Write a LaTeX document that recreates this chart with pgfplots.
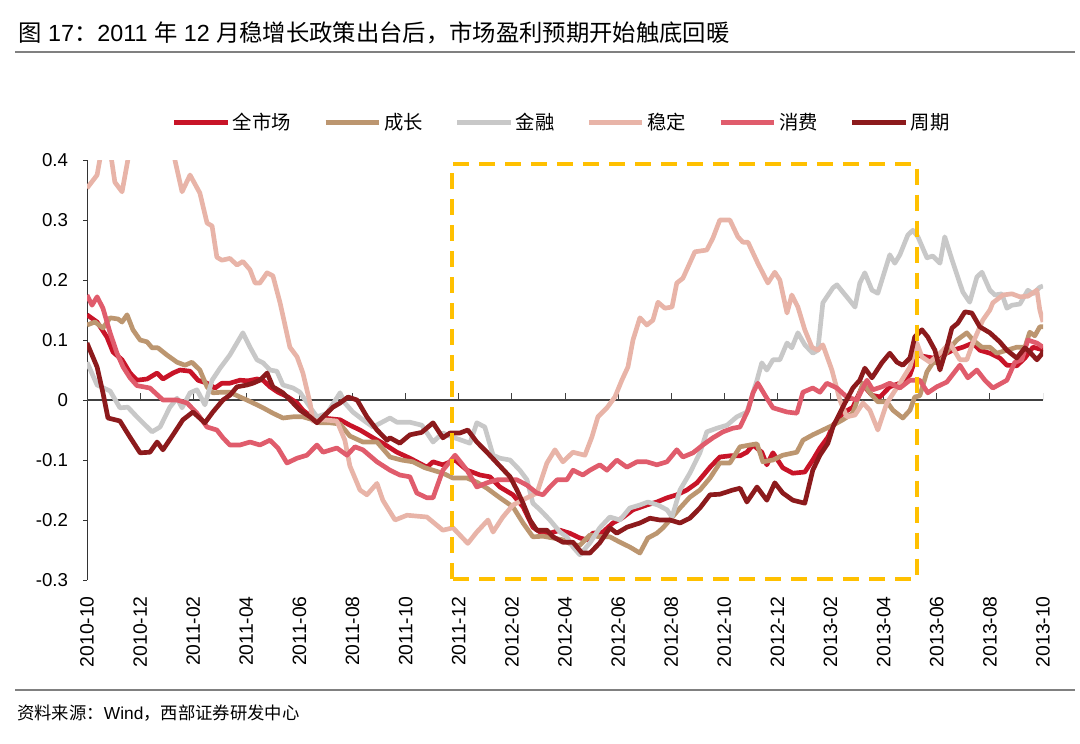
\documentclass[border=0pt]{standalone}
\usepackage{fontspec}
\setmainfont{Liberation Sans}
\newfontfamily\cjk{Noto Sans CJK SC}
\usepackage{pgfplots}
\pgfplotsset{compat=1.18}
\definecolor{cAll}{RGB}{200,20,40}
\definecolor{cGrow}{RGB}{188,150,112}
\definecolor{cFin}{RGB}{200,200,200}
\definecolor{cStab}{RGB}{232,180,168}
\definecolor{cCons}{RGB}{224,92,108}
\definecolor{cCyc}{RGB}{140,26,28}
\definecolor{cBox}{RGB}{255,192,0}
\begin{document}
\begin{tikzpicture}
\path[use as bounding box] (0pt,0pt) rectangle (810pt,-557.25pt);
% title
\node[anchor=west, inner sep=0pt, font=\fontsize{17.5}{20}\selectfont] at (13.5pt,-24.75pt)
 {{\cjk 图} 17{\cjk ：}2011 {\cjk 年} 12 {\cjk 月稳增长政策出台后，市场盈利预期开始触底回暖}};
\draw[line width=1.5pt, black!50] (11.25pt,-39pt) -- (806.25pt,-39pt);
\draw[line width=1.5pt, black!50] (11.25pt,-517.5pt) -- (806.25pt,-517.5pt);
\node[anchor=west, inner sep=0pt, font=\fontsize{13}{15}\selectfont] at (12.75pt,-534.75pt)
 {{\cjk 资料来源：}Wind{\cjk ，西部证券研发中心}};
\begin{axis}[
  at={(65.25pt,-435pt)}, anchor=south west,
  width=717pt, height=315pt, scale only axis,
  xmin=0, xmax=36, ymin=-0.3, ymax=0.4,
  enlargelimits=false,
  axis x line*=bottom, axis y line*=left,
  x axis line style={draw=none},
  y axis line style={draw=black!80, line width=0.75pt, -},
  xtick style={draw=none},
  ytick style={draw=black!80, line width=0.75pt},
  tick align=outside, major tick length=3pt,
  xtick={0,2,...,36},
  xticklabels={2010-10,2010-12,2011-02,2011-04,2011-06,2011-08,2011-10,2011-12,2012-02,2012-04,2012-06,2012-08,2012-10,2012-12,2013-02,2013-04,2013-06,2013-08,2013-10},
  xticklabel style={rotate=90, anchor=east, inner sep=0pt, font=\fontsize{14.5}{16}\selectfont},
  xticklabel shift=9pt,
  ytick={-0.3,-0.2,-0.1,0,0.1,0.2,0.3,0.4},
  yticklabels={-0.3,-0.2,-0.1,0,0.1,0.2,0.3,0.4},
  yticklabel style={inner sep=0pt, font=\fontsize{14}{16}\selectfont},
  yticklabel shift=11pt,
  legend style={at={(0.497,1.09)}, anchor=center, draw=none, fill=none,
    font=\cjk\fontsize{14.5}{17}\selectfont,
    /tikz/every even column/.append style={column sep=22pt}},
  legend columns=6,
  legend cell align=left,
  legend image code/.code={\draw[#1, line width=3.8pt] (0pt,0pt) -- (40pt,0pt);},
  every axis plot/.append style={line width=3.5pt, line join=round, mark=none},
]
\draw[black!75, line width=1.1pt] (axis cs:0,0) -- (axis cs:36,0);
\pgfplotsinvokeforeach{2,4,...,36}{\draw[black!75, line width=0.75pt] (axis cs:#1,0) -- ++(0pt,5pt);}

\addplot[cAll] coordinates {(0,0.142) (0.38,0.13) (0.75,0.105) (0.98,0.08) (1.32,0.067) (1.62,0.045) (1.88,0.033) (2.26,0.035) (2.64,0.045) (2.86,0.035) (3.24,0.045) (3.50,0.05) (3.88,0.048) (4.18,0.033) (4.52,0.028) (4.82,0.02) (5.08,0.028) (5.38,0.028) (5.76,0.033) (6.06,0.032) (6.40,0.035) (6.63,0.033) (6.89,0.022) (7.19,0.013) (7.57,0.005) (7.91,-0.005) (8.13,-0.017) (8.51,-0.03) (8.89,-0.03) (9.53,-0.033) (9.90,-0.042) (10.28,-0.05) (10.77,-0.063) (11.14,-0.072) (11.67,-0.087) (12.16,-0.097) (12.80,-0.112) (13.03,-0.103) (13.40,-0.108) (13.86,-0.1) (14.31,-0.117) (14.80,-0.125) (15.17,-0.128) (15.55,-0.145) (16.04,-0.158) (16.42,-0.178) (16.79,-0.212) (17.06,-0.22) (17.43,-0.222) (17.81,-0.217) (18.18,-0.222) (18.56,-0.23) (18.83,-0.233) (19.05,-0.222) (19.43,-0.22) (19.80,-0.205) (20.14,-0.197) (20.56,-0.183) (21.08,-0.175) (21.46,-0.17) (21.84,-0.163) (22.21,-0.158) (22.59,-0.15) (22.97,-0.138) (23.46,-0.112) (23.83,-0.095) (24.21,-0.093) (24.59,-0.093) (24.85,-0.087) (25.08,-0.075) (25.41,-0.087) (25.60,-0.108) (25.83,-0.088) (26.20,-0.113) (26.58,-0.122) (27.03,-0.12) (27.33,-0.1) (27.60,-0.08) (27.90,-0.062) (28.09,-0.042) (28.46,-0.022) (28.84,-0.012) (29.22,0.025) (29.56,0.008) (29.86,0.005) (30.23,0.022) (30.61,0.028) (30.99,0.042) (31.25,0.075) (31.48,0.073) (31.85,0.07) (32.23,0.075) (32.60,0.083) (32.98,0.088) (33.36,0.095) (33.62,0.083) (34.00,0.078) (34.37,0.07) (34.64,0.058) (35.01,0.057) (35.32,0.07) (35.62,0.088) (35.88,0.085) (36.0,0.085)};
\addlegendentry{全市场}

\addplot[cGrow] coordinates {(0,0.125) (0.30,0.13) (0.60,0.12) (0.87,0.137) (1.17,0.135) (1.32,0.13) (1.51,0.142) (1.73,0.117) (2.00,0.1) (2.26,0.097) (2.45,0.087) (2.67,0.087) (3.01,0.075) (3.39,0.063) (3.69,0.058) (3.95,0.063) (4.25,0.05) (4.52,0.022) (4.74,0.012) (5.08,0.013) (5.38,0.013) (5.76,0.005) (6.02,0.0) (6.40,-0.008) (6.63,-0.013) (7.00,-0.022) (7.38,-0.03) (7.76,-0.028) (8.13,-0.028) (8.51,-0.033) (8.77,-0.038) (9.15,-0.038) (9.53,-0.04) (9.90,-0.06) (10.39,-0.07) (10.92,-0.07) (11.41,-0.095) (11.84,-0.1) (12.27,-0.103) (12.73,-0.113) (13.03,-0.117) (13.40,-0.122) (13.78,-0.13) (14.31,-0.13) (14.68,-0.137) (15.06,-0.147) (15.55,-0.163) (16.04,-0.178) (16.42,-0.205) (16.79,-0.228) (17.17,-0.227) (17.55,-0.23) (17.92,-0.233) (18.30,-0.242) (18.56,-0.242) (18.94,-0.225) (19.31,-0.228) (19.69,-0.228) (20.07,-0.237) (20.44,-0.245) (20.82,-0.255) (21.12,-0.23) (21.46,-0.222) (21.69,-0.213) (21.95,-0.2) (22.33,-0.18) (22.70,-0.162) (23.08,-0.15) (23.46,-0.13) (23.83,-0.105) (24.21,-0.105) (24.59,-0.078) (24.96,-0.075) (25.23,-0.073) (25.45,-0.103) (25.83,-0.1) (26.20,-0.092) (26.73,-0.087) (26.96,-0.067) (27.33,-0.058) (27.71,-0.05) (28.09,-0.042) (28.46,-0.033) (28.84,-0.022) (29.22,0.028) (29.56,0.008) (29.78,-0.003) (30.12,-0.003) (30.35,-0.017) (30.72,-0.03) (30.99,-0.017) (31.17,0.005) (31.36,0.007) (31.63,0.047) (31.85,0.062) (32.12,0.063) (32.42,0.083) (32.76,0.1) (33.13,0.112) (33.36,0.1) (33.70,0.088) (34.00,0.088) (34.26,0.078) (34.64,0.083) (35.01,0.088) (35.32,0.088) (35.50,0.113) (35.69,0.107) (35.88,0.122) (36.0,0.122)};
\addlegendentry{成长}

\addplot[cFin] coordinates {(0,0.063) (0.38,0.025) (0.87,0.015) (1.24,-0.013) (1.54,-0.012) (1.88,-0.028) (2.45,-0.053) (2.75,-0.045) (3.12,-0.012) (3.39,0.003) (3.58,-0.013) (3.88,0.012) (4.14,0.017) (4.44,-0.008) (4.71,0.033) (5.01,0.053) (5.38,0.075) (5.87,0.112) (6.14,0.088) (6.40,0.067) (6.63,0.062) (6.89,0.05) (7.15,0.048) (7.38,0.025) (7.76,0.02) (8.02,0.013) (8.40,-0.012) (8.66,-0.028) (9.04,-0.022) (9.53,0.012) (9.71,-0.005) (10.01,-0.02) (10.39,-0.033) (10.77,-0.045) (11.41,-0.03) (11.67,-0.037) (12.16,-0.037) (12.61,-0.042) (13.03,-0.07) (13.40,-0.055) (13.78,-0.062) (14.42,-0.072) (14.68,-0.038) (14.98,-0.045) (15.29,-0.092) (15.55,-0.097) (15.93,-0.1) (16.30,-0.117) (16.57,-0.133) (16.79,-0.172) (17.06,-0.183) (17.43,-0.2) (17.81,-0.22) (18.07,-0.228) (18.30,-0.245) (18.56,-0.258) (18.94,-0.238) (19.31,-0.213) (19.69,-0.195) (20.07,-0.2) (20.44,-0.18) (20.82,-0.175) (21.12,-0.17) (21.50,-0.175) (21.84,-0.183) (22.03,-0.195) (22.33,-0.15) (22.70,-0.122) (23.08,-0.088) (23.34,-0.053) (23.72,-0.047) (24.10,-0.042) (24.47,-0.028) (24.85,-0.02) (25.23,0.033) (25.41,0.062) (25.60,0.05) (25.83,0.067) (26.09,0.067) (26.36,0.095) (26.54,0.087) (26.77,0.112) (27.03,0.092) (27.33,0.078) (27.52,0.083) (27.71,0.162) (28.09,0.187) (28.24,0.192) (28.61,0.172) (28.92,0.155) (29.10,0.195) (29.29,0.212) (29.56,0.183) (29.78,0.178) (29.97,0.205) (30.23,0.242) (30.42,0.228) (30.61,0.242) (30.91,0.275) (31.10,0.283) (31.29,0.272) (31.63,0.237) (31.85,0.24) (32.12,0.228) (32.30,0.272) (32.60,0.23) (32.98,0.18) (33.24,0.163) (33.51,0.205) (33.70,0.213) (34.00,0.183) (34.19,0.175) (34.45,0.177) (34.64,0.153) (34.83,0.158) (35.13,0.16) (35.43,0.183) (35.62,0.177) (35.88,0.188) (36.0,0.19)};
\addlegendentry{金融}

\addplot[cStab] coordinates {(0,0.353) (0.38,0.375) (0.56,0.42) (0.79,0.44) (1.05,0.363) (1.32,0.347) (1.62,0.42) (2.0,0.47) (2.75,0.47) (3.2,0.43) (3.31,0.40) (3.58,0.347) (3.88,0.375) (4.25,0.345) (4.52,0.295) (4.71,0.29) (4.89,0.238) (5.08,0.233) (5.38,0.236) (5.65,0.225) (5.87,0.231) (6.14,0.217) (6.33,0.195) (6.51,0.195) (6.78,0.212) (7.0,0.207) (7.27,0.162) (7.64,0.088) (7.91,0.072) (8.13,0.045) (8.40,-0.005) (8.51,-0.035) (8.89,-0.033) (9.41,-0.035) (9.71,-0.067) (9.90,-0.11) (10.28,-0.15) (10.54,-0.158) (10.92,-0.139) (11.14,-0.167) (11.60,-0.2) (12.05,-0.192) (12.80,-0.195) (13.40,-0.217) (13.78,-0.213) (14.34,-0.239) (14.68,-0.22) (15.10,-0.2) (15.29,-0.22) (15.66,-0.195) (16.04,-0.175) (16.57,-0.163) (16.94,-0.155) (17.32,-0.105) (17.62,-0.083) (17.92,-0.103) (18.30,-0.087) (18.75,-0.092) (19.01,-0.062) (19.24,-0.028) (19.58,-0.013) (19.88,0.005) (20.14,0.033) (20.37,0.055) (20.56,0.1) (20.82,0.137) (21.08,0.125) (21.31,0.133) (21.50,0.163) (21.76,0.153) (22.03,0.155) (22.21,0.195) (22.44,0.203) (22.89,0.247) (23.34,0.25) (23.57,0.27) (23.83,0.3) (24.21,0.3) (24.51,0.272) (24.70,0.263) (24.89,0.263) (25.26,0.228) (25.64,0.195) (25.90,0.213) (26.09,0.2) (26.36,0.145) (26.54,0.175) (26.77,0.155) (27.03,0.117) (27.30,0.088) (27.52,0.083) (27.71,0.092) (28.05,0.05) (28.35,0.0) (28.61,-0.028) (28.92,-0.025) (29.22,-0.005) (29.48,-0.017) (29.78,-0.05) (30.12,-0.005) (30.61,0.028) (30.99,0.055) (31.25,0.095) (31.44,0.072) (31.74,0.063) (32.12,0.078) (32.49,0.095) (32.87,0.067) (33.13,0.067) (33.36,0.095) (33.73,0.133) (34.0,0.15) (34.11,0.162) (34.49,0.175) (34.83,0.177) (35.13,0.172) (35.43,0.173) (35.77,0.183) (35.88,0.15) (36.0,0.13)};
\addlegendentry{稳定}

\addplot[cCons] coordinates {(0,0.175) (0.19,0.158) (0.38,0.172) (0.60,0.153) (0.87,0.112) (1.13,0.078) (1.36,0.055) (1.62,0.037) (1.88,0.024) (2.37,0.02) (2.86,0.0) (3.39,0.0) (3.77,-0.005) (4.14,-0.022) (4.52,-0.045) (4.89,-0.05) (5.12,-0.063) (5.38,-0.075) (5.76,-0.075) (6.14,-0.07) (6.51,-0.075) (6.89,-0.067) (7.19,-0.08) (7.53,-0.105) (7.91,-0.097) (8.28,-0.092) (8.66,-0.075) (8.89,-0.087) (9.41,-0.08) (9.79,-0.092) (10.09,-0.078) (10.39,-0.083) (10.92,-0.103) (11.41,-0.117) (11.78,-0.125) (12.16,-0.128) (12.42,-0.155) (12.80,-0.163) (13.03,-0.163) (13.40,-0.117) (13.86,-0.092) (14.31,-0.117) (14.68,-0.145) (15.06,-0.138) (15.44,-0.133) (15.81,-0.133) (16.19,-0.133) (16.57,-0.142) (16.94,-0.155) (17.17,-0.158) (17.43,-0.145) (17.70,-0.133) (18.07,-0.133) (18.30,-0.117) (18.67,-0.125) (18.94,-0.117) (19.31,-0.108) (19.58,-0.117) (19.95,-0.1) (20.33,-0.112) (20.71,-0.103) (21.08,-0.103) (21.46,-0.108) (21.84,-0.103) (22.21,-0.083) (22.44,-0.095) (22.82,-0.088) (23.19,-0.075) (23.57,-0.063) (23.95,-0.053) (24.32,-0.047) (24.59,-0.045) (24.89,-0.017) (25.08,0.012) (25.26,0.028) (25.60,0.003) (25.83,-0.013) (26.36,-0.02) (26.73,-0.022) (26.96,0.013) (27.33,0.02) (27.60,0.013) (27.86,0.028) (28.24,0.02) (28.61,0.005) (28.99,0.0) (29.37,0.033) (29.59,0.017) (29.93,0.022) (30.23,0.028) (30.61,0.02) (30.99,0.033) (31.36,0.033) (31.66,0.012) (32.00,0.022) (32.38,0.03) (32.87,0.058) (33.17,0.037) (33.51,0.05) (33.81,0.033) (34.11,0.02) (34.64,0.033) (34.94,0.063) (35.20,0.067) (35.43,0.1) (35.77,0.095) (36.0,0.088)};
\addlegendentry{消费}

\addplot[cCyc] coordinates {(0,0.095) (0.38,0.055) (0.60,0.012) (0.79,-0.03) (1.24,-0.035) (1.62,-0.062) (2.00,-0.088) (2.37,-0.087) (2.64,-0.07) (2.86,-0.083) (3.24,-0.058) (3.61,-0.033) (3.99,-0.02) (4.44,-0.038) (4.74,-0.02) (5.12,0.0) (5.38,0.008) (5.65,0.022) (6.02,0.025) (6.25,0.028) (6.51,0.033) (6.78,0.045) (7.00,0.022) (7.38,0.012) (7.76,-0.005) (8.02,-0.017) (8.40,-0.028) (8.66,-0.038) (8.89,-0.028) (9.26,-0.012) (9.53,-0.005) (9.83,0.005) (10.17,0.0) (10.54,-0.028) (10.92,-0.05) (11.30,-0.067) (11.41,-0.063) (11.78,-0.072) (12.16,-0.058) (12.60,-0.054) (13.03,-0.038) (13.40,-0.063) (13.67,-0.055) (14.04,-0.055) (14.34,-0.05) (14.68,-0.07) (15.06,-0.087) (15.44,-0.105) (15.93,-0.128) (16.19,-0.15) (16.42,-0.172) (16.68,-0.2) (16.94,-0.217) (17.32,-0.217) (17.55,-0.228) (17.92,-0.237) (18.30,-0.237) (18.64,-0.255) (18.94,-0.255) (19.31,-0.238) (19.69,-0.213) (19.95,-0.222) (20.33,-0.212) (20.82,-0.205) (21.20,-0.197) (21.57,-0.2) (21.95,-0.2) (22.33,-0.205) (22.70,-0.197) (23.08,-0.18) (23.46,-0.158) (23.83,-0.157) (24.32,-0.15) (24.59,-0.147) (24.85,-0.17) (25.23,-0.145) (25.60,-0.167) (25.90,-0.138) (26.20,-0.155) (26.58,-0.167) (27.03,-0.172) (27.33,-0.117) (27.60,-0.092) (27.90,-0.072) (28.09,-0.045) (28.46,-0.012) (28.84,0.02) (29.10,0.033) (29.29,0.053) (29.56,0.037) (29.93,0.062) (30.23,0.078) (30.50,0.063) (30.72,0.058) (30.99,0.07) (31.17,0.105) (31.44,0.117) (31.66,0.105) (31.93,0.083) (32.12,0.05) (32.38,0.088) (32.57,0.12) (32.79,0.128) (33.06,0.147) (33.32,0.145) (33.62,0.122) (34.00,0.112) (34.37,0.097) (34.64,0.083) (35.01,0.07) (35.32,0.087) (35.50,0.08) (35.77,0.067) (35.96,0.077) (36.0,0.083)};
\addlegendentry{周期}

\draw[cBox, line width=3pt, dash pattern=on 12pt off 7.5pt] (axis cs:13.74,-0.298) rectangle (axis cs:31.25,0.393);
\end{axis}
\end{tikzpicture}
\end{document}
